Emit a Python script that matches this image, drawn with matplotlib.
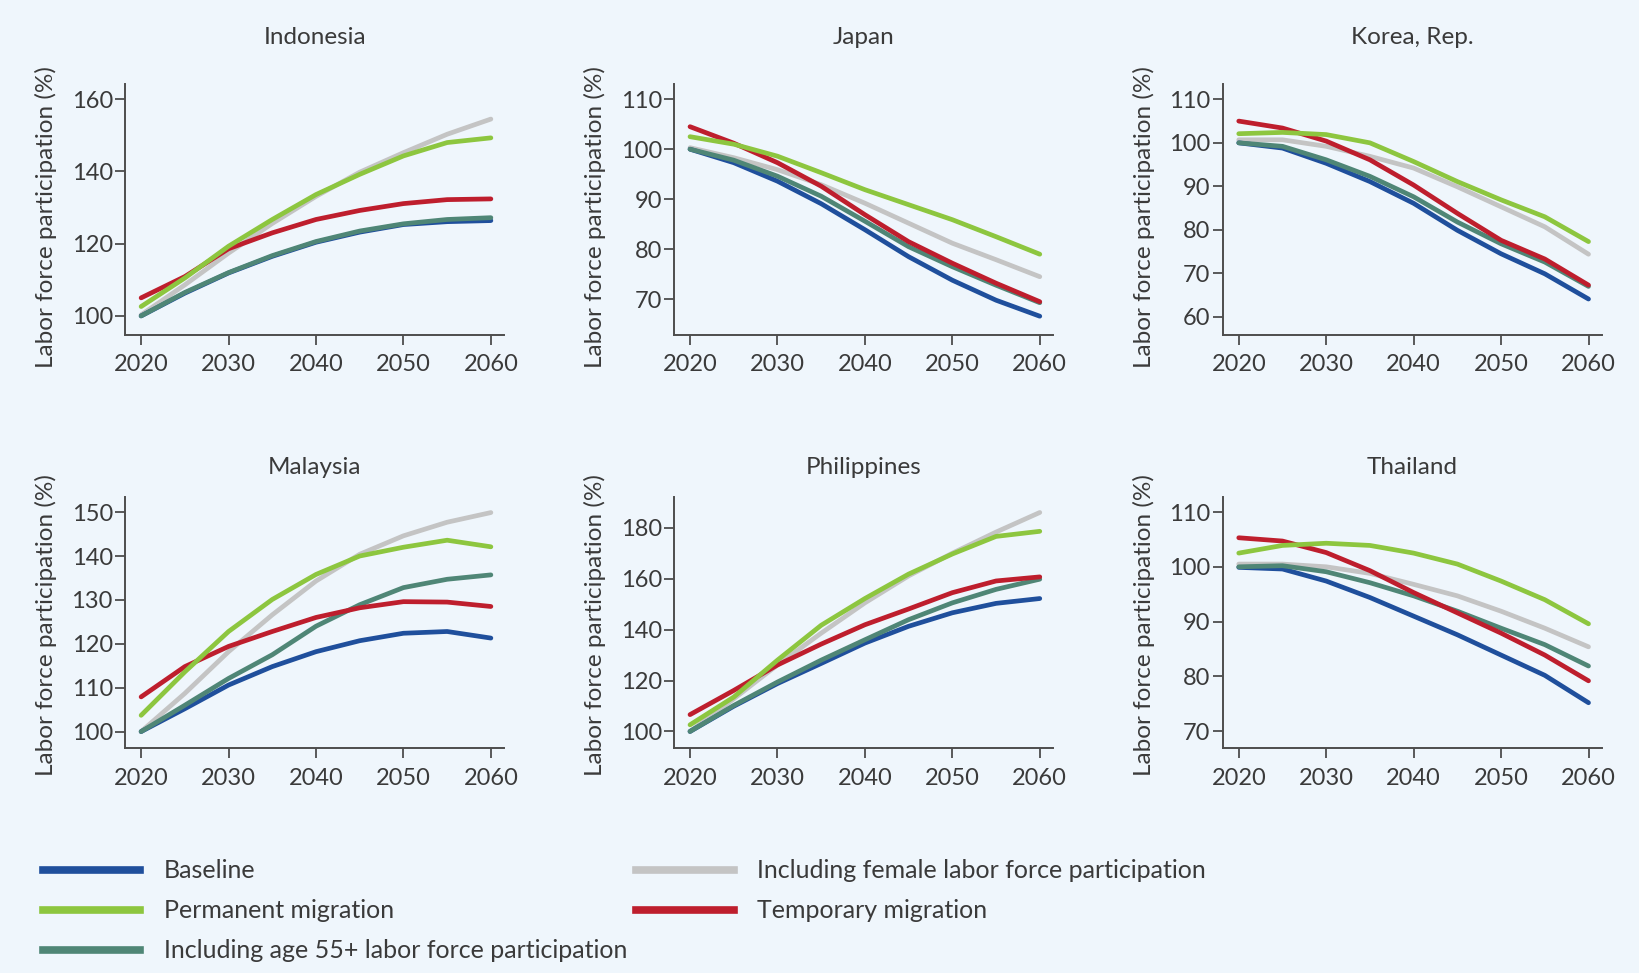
import matplotlib.pyplot as plt
from matplotlib.lines import Line2D

plt.rcParams['font.family'] = ['Lato', 'DejaVu Sans']

years = [2020, 2025, 2030, 2035, 2040, 2045, 2050, 2055, 2060]

series_names = ['Baseline', 'Permanent migration', 'Including age 55+ labor force participation',
                'Including female labor force participation', 'Temporary migration']
series_colors = {
    'Baseline': '#1f4f9c',
    'Permanent migration': '#8dc63f',
    'Including age 55+ labor force participation': '#4f8676',
    'Including female labor force participation': '#c4c4c4',
    'Temporary migration': '#be1e2d',
}

# values, 5-year steps
indonesia = {
    'Baseline': [100, 106.3, 111.9, 116.5, 120.4, 123.2, 125.3, 126.1, 126.4],
    'Including age 55+ labor force participation': [100, 106.5, 112.0, 116.7, 120.6, 123.5, 125.5, 126.7, 127.2],
    'Temporary migration': [105.0, 110.9, 118.6, 123.0, 126.7, 129.2, 131.1, 132.2, 132.4],
    'Permanent migration': [102.6, 110.5, 119.3, 126.7, 133.6, 139.2, 144.3, 148.0, 149.3],
    'Including female labor force participation': [100.3, 108.6, 117.4, 125.6, 133.1, 139.8, 145.2, 150.3, 154.5],
}
japan = {
    'Baseline': [100.0, 97.3, 93.6, 89.1, 83.9, 78.5, 73.8, 69.8, 66.6],
    'Including age 55+ labor force participation': [100.0, 97.8, 94.6, 90.6, 85.6, 80.5, 76.5, 72.8, 69.3],
    'Temporary migration': [104.5, 101.2, 97.3, 92.6, 86.9, 81.5, 77.2, 73.2, 69.5],
    'Permanent migration': [102.5, 101.0, 98.6, 95.3, 91.9, 88.9, 85.9, 82.5, 79.0],
    'Including female labor force participation': [100.3, 98.3, 95.9, 92.9, 89.2, 85.2, 81.2, 77.9, 74.5],
}
korea = {
    'Baseline': [100.0, 98.8, 95.3, 91.1, 86.1, 79.9, 74.5, 69.9, 64.1],
    'Including age 55+ labor force participation': [100.0, 99.2, 96.1, 92.3, 87.6, 81.8, 76.8, 72.6, 67.0],
    'Temporary migration': [105.0, 103.4, 100.4, 96.1, 90.3, 83.8, 77.6, 73.3, 67.3],
    'Permanent migration': [102.1, 102.4, 101.9, 100.0, 95.7, 91.1, 86.9, 83.0, 77.3],
    'Including female labor force participation': [100.7, 100.7, 99.2, 96.9, 94.2, 89.9, 85.3, 80.7, 74.4],
}
malaysia = {
    'Baseline': [100, 105.2, 110.6, 114.8, 118.2, 120.7, 122.4, 122.8, 121.3],
    'Including age 55+ labor force participation': [100, 106.0, 112.1, 117.5, 124.0, 128.9, 132.8, 134.7, 135.7],
    'Temporary migration': [107.9, 114.8, 119.4, 122.8, 126.0, 128.2, 129.6, 129.5, 128.5],
    'Permanent migration': [103.7, 113.6, 122.8, 130.1, 135.8, 140.0, 142.0, 143.6, 142.1],
    'Including female labor force participation': [100, 108.7, 118.2, 126.6, 134.3, 140.4, 144.6, 147.7, 149.9],
}
philippines = {
    'Baseline': [100, 109.9, 118.8, 126.7, 134.7, 141.3, 146.6, 150.3, 152.2],
    'Including age 55+ labor force participation': [100, 110.2, 119.4, 128.0, 136.0, 143.9, 150.5, 155.8, 159.8],
    'Temporary migration': [106.6, 116.1, 126.1, 134.3, 141.9, 148.1, 154.5, 159.1, 160.7],
    'Permanent migration': [102.6, 113.5, 128.0, 141.7, 152.2, 161.8, 169.7, 176.6, 178.6],
    'Including female labor force participation': [100, 112.8, 126.1, 138.6, 150.5, 161.1, 170.0, 178.3, 186.0],
}
thailand = {
    'Baseline': [99.9, 99.6, 97.4, 94.4, 91.0, 87.6, 83.9, 80.2, 75.2],
    'Including age 55+ labor force participation': [100.0, 100.2, 99.1, 97.1, 94.7, 91.9, 88.8, 85.8, 81.9],
    'Temporary migration': [105.3, 104.7, 102.6, 99.3, 95.3, 91.6, 87.9, 83.9, 79.2],
    'Permanent migration': [102.5, 103.9, 104.3, 103.9, 102.5, 100.5, 97.4, 94.0, 89.6],
    'Including female labor force participation': [100.5, 100.5, 100.0, 98.8, 96.8, 94.7, 91.9, 88.8, 85.4],
}

countries = ['Indonesia', 'Japan', 'Korea, Rep.', 'Malaysia', 'Philippines', 'Thailand']
country_data = [indonesia, japan, korea, malaysia, philippines, thailand]
yticks_list = [[100, 120, 140, 160], [70, 80, 90, 100, 110], [60, 70, 80, 90, 100, 110],
               [100, 110, 120, 130, 140, 150], [100, 120, 140, 160, 180], [70, 80, 90, 100, 110]]
ylims = [(94.8, 164.3), (62.9, 113.1), (55.9, 113.6), (96.2, 153.4), (93.4, 192.0), (66.9, 112.7)]

draw_order = ['Including female labor force participation', 'Baseline',
              'Including age 55+ labor force participation', 'Temporary migration', 'Permanent migration']

bg = '#eff6fc'
axis_col = '#4d4d4d'
text_col = '#3a3a3a'

fig = plt.figure(figsize=(16.39, 9.73), dpi=100, facecolor=bg)

lefts = [0.0765, 0.4114, 0.7462]
w = 0.231
bottoms = [0.656, 0.231]
h = 0.258

for i, (name, d) in enumerate(zip(countries, country_data)):
    r, c = divmod(i, 3)
    ax = fig.add_axes([lefts[c], bottoms[r], w, h])
    ax.set_facecolor(bg)
    for s in draw_order:
        ax.plot(years, d[s], color=series_colors[s], lw=3.4, solid_capstyle='round',
                solid_joinstyle='round')
    ax.set_xlim(2018.2, 2061.5)
    ax.set_ylim(*ylims[i])
    ax.set_xticks([2020, 2030, 2040, 2050, 2060])
    ax.set_yticks(yticks_list[i])
    for sp in ['top', 'right']:
        ax.spines[sp].set_visible(False)
    for sp in ['left', 'bottom']:
        ax.spines[sp].set_color(axis_col)
        ax.spines[sp].set_linewidth(1.4)
    ax.tick_params(direction='out', length=7, width=1.3, color=axis_col,
                   labelsize=17, labelcolor=text_col)
    ax.tick_params(axis='x', pad=7)
    ax.tick_params(axis='y', pad=2)
    ax.set_ylabel('Labor force participation (%)', fontsize=17.5, color=text_col)
    ax.yaxis.set_label_coords(-0.18, 0.47 if r == 0 else 0.49)
    ty = 1.183 if r == 0 else 1.12
    ax.text(0.5, ty, name, transform=ax.transAxes, ha='center', va='center',
            fontsize=17.5, color=text_col)

handles = [Line2D([0], [0], color=series_colors[s], lw=5.5) for s in series_names]
fig.legend(handles, series_names, loc='upper left', bbox_to_anchor=(0.0185, 0.1296),
           ncol=2, frameon=False, fontsize=18, handlelength=3.9, handletextpad=0.95,
           columnspacing=0.35, labelspacing=0.68, borderpad=0, labelcolor=text_col)

fig.savefig('out.png', dpi=100, facecolor=bg)
